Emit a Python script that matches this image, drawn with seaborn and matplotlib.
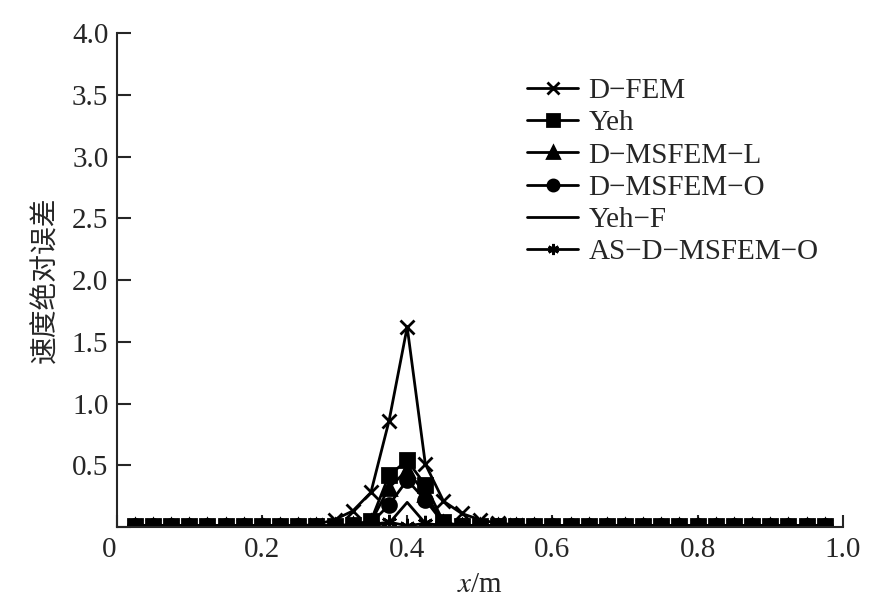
import matplotlib
matplotlib.use("Agg")
import seaborn as sns
from matplotlib import pyplot as plt
import pandas as pd

# grid points along x (m)
x = [0.025, 0.05, 0.075, 0.1, 0.125, 0.15, 0.175, 0.2, 0.225, 0.25,
     0.275, 0.3, 0.325, 0.35, 0.375, 0.4, 0.425, 0.45, 0.475, 0.5,
     0.525, 0.55, 0.575, 0.6, 0.625, 0.65, 0.675, 0.7, 0.725, 0.75,
     0.775, 0.8, 0.825, 0.85, 0.875, 0.9, 0.925, 0.95, 0.975]

d_fem = [0.01, 0.01, 0.01, 0.01, 0.01, 0.01, 0.01, 0.01, 0.01, 0.01,
         0.02, 0.06, 0.13, 0.28, 0.86, 1.62, 0.51, 0.21, 0.11, 0.06,
         0.03, 0.02, 0.01, 0.01, 0.01, 0.01, 0.01, 0.01, 0.01, 0.01,
         0.01, 0.01, 0.01, 0.01, 0.01, 0.01, 0.01, 0.01, 0.01]
yeh = [0.01, 0.01, 0.01, 0.01, 0.01, 0.01, 0.01, 0.01, 0.01, 0.01,
       0.01, 0.01, 0.02, 0.05, 0.42, 0.54, 0.34, 0.04, 0.01, 0.01,
       0.01, 0.01, 0.01, 0.01, 0.01, 0.01, 0.01, 0.01, 0.01, 0.01,
       0.01, 0.01, 0.01, 0.01, 0.01, 0.01, 0.01, 0.01, 0.01]
d_msfem_l = [0.01, 0.01, 0.01, 0.01, 0.01, 0.01, 0.01, 0.01, 0.01, 0.01,
             0.01, 0.01, 0.02, 0.04, 0.32, 0.46, 0.27, 0.03, 0.01, 0.01,
             0.01, 0.01, 0.01, 0.01, 0.01, 0.01, 0.01, 0.01, 0.01, 0.01,
             0.01, 0.01, 0.01, 0.01, 0.01, 0.01, 0.01, 0.01, 0.01]
d_msfem_o = [0.01, 0.01, 0.01, 0.01, 0.01, 0.01, 0.01, 0.01, 0.01, 0.01,
             0.01, 0.01, 0.01, 0.03, 0.18, 0.38, 0.22, 0.03, 0.01, 0.01,
             0.01, 0.01, 0.01, 0.01, 0.01, 0.01, 0.01, 0.01, 0.01, 0.01,
             0.01, 0.01, 0.01, 0.01, 0.01, 0.01, 0.01, 0.01, 0.01]
yeh_f = [0.01, 0.01, 0.01, 0.01, 0.01, 0.01, 0.01, 0.01, 0.01, 0.01,
         0.01, 0.01, 0.01, 0.01, 0.03, 0.20, 0.03, 0.01, 0.01, 0.01,
         0.01, 0.01, 0.01, 0.01, 0.01, 0.01, 0.01, 0.01, 0.01, 0.01,
         0.01, 0.01, 0.01, 0.01, 0.01, 0.01, 0.01, 0.01, 0.01]
as_d_msfem_o = [0.01, 0.01, 0.01, 0.01, 0.01, 0.01, 0.01, 0.01, 0.01, 0.01,
                0.01, 0.01, 0.01, 0.02, 0.04, 0.01, 0.03, 0.01, 0.01, 0.01,
                0.01, 0.01, 0.01, 0.01, 0.01, 0.01, 0.01, 0.01, 0.01, 0.01,
                0.01, 0.01, 0.01, 0.01, 0.01, 0.01, 0.01, 0.01, 0.01]

names = ["D\u2212FEM", "Yeh", "D\u2212MSFEM\u2212L", "D\u2212MSFEM\u2212O",
         "Yeh\u2212F", "AS\u2212D\u2212MSFEM\u2212O"]
series = [d_fem, yeh, d_msfem_l, d_msfem_o, yeh_f, as_d_msfem_o]
markers = ["x", "s", "^", "o", None, (6, 2, 0)]
msizes = [10, 10, 10, 10, 0, 11]

x_ticks = [0, 0.2, 0.4, 0.6, 0.8, 1.0]
x_labels = ["0", "0.2", "0.4", "0.6", "0.8", "1.0"]
y_ticks = [0, 0.5, 1.0, 1.5, 2.0, 2.5, 3.0, 3.5, 4.0]
y_labels = ["", "0.5", "1.0", "1.5", "2.0", "2.5", "3.0", "3.5", "4.0"]

sns.set_style("ticks")
plt.rcParams["font.family"] = ["Liberation Serif", "Noto Sans CJK SC"]
plt.rcParams["font.size"] = 21
plt.rcParams["mathtext.fontset"] = "stix"

fig = plt.figure(figsize=(8.91, 6.15), dpi=100)
ax = fig.add_axes([0.131, 0.143, 0.815, 0.803])

for name, vals, mk, ms in zip(names, series, markers, msizes):
    df = pd.DataFrame({"x": x, "y": vals})
    sns.lineplot(data=df, x="x", y="y", ax=ax, color="black", lw=2,
                 marker=mk, markersize=ms, markeredgewidth=2,
                 markeredgecolor="black", label=name)

ax.set_xlim(0, 1.0)
ax.set_ylim(0, 4.0)
ax.set_xticks(x_ticks)
ax.set_xticklabels(x_labels)
ax.get_xticklabels()[0].set_ha("right")
ax.set_yticks(y_ticks)
ax.set_yticklabels(y_labels)
ax.tick_params(axis="x", direction="in", length=9, width=1.5, pad=7, labelsize=21)
ax.tick_params(axis="y", direction="in", length=10, width=1.5, pad=6, labelsize=21)
for s in ["left", "bottom"]:
    ax.spines[s].set_linewidth(1.5)
ax.spines["top"].set_visible(False)
ax.spines["right"].set_visible(False)

ax.set_xlabel("$x$/m", fontsize=21, labelpad=7)
ax.set_ylabel("速度绝对误差", family=["Noto Sans CJK SC"], fontsize=20, labelpad=8)

leg = ax.legend(loc="upper left", bbox_to_anchor=(0.565, 0.91), frameon=False,
                fontsize=21, handlelength=1.75, handletextpad=0.35,
                labelspacing=0.2, borderpad=0, borderaxespad=0)
for h in leg.get_lines():
    h.set_markersize(8)

fig.savefig("out.png", dpi=100)
